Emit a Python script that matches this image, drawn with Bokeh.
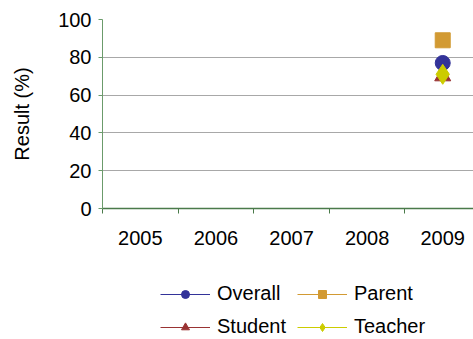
import math
from bokeh.plotting import figure
from bokeh.layouts import column
from bokeh.models import FixedTicker, Range1d, Legend, LegendItem, ColumnDataSource
from bokeh.embed import file_html
from bokeh.resources import INLINE

# Survey results by year (only 2009 has data)
years = ["2005", "2006", "2007", "2008", "2009"]
overall = [math.nan, math.nan, math.nan, math.nan, 77]
parent = [math.nan, math.nan, math.nan, math.nan, 89]
student = [math.nan, math.nan, math.nan, math.nan, 70]
teacher = [math.nan, math.nan, math.nan, math.nan, 71]
y_ticks = [0, 20, 40, 60, 80, 100]

FONT = "Liberation Sans"

# category centres on a numeric axis so boundary ticks can sit between labels
xs = [i + 0.5 for i in range(len(years))]

p = figure(
    width=473, height=255,
    output_backend="svg", toolbar_location=None,
    x_range=Range1d(0, 4.907), y_range=Range1d(0, 100),
    min_border_left=102, min_border_top=19, min_border_bottom=47, min_border_right=0,
)
p.outline_line_color = None
p.background_fill_color = "white"
p.border_fill_color = "white"

# x axis: labels at centres, tick marks at category boundaries
p.xaxis.ticker = FixedTicker(ticks=xs, minor_ticks=list(range(len(years))))
p.xaxis.major_label_overrides = {x: y for x, y in zip(xs, years)}
p.xaxis.major_tick_line_color = None
p.xaxis.major_tick_out = 0
p.xaxis.major_tick_in = 0
p.xaxis.minor_tick_line_color = "#4a7a4a"
p.xaxis.minor_tick_out = 5
p.xaxis.minor_tick_in = 0
p.xaxis.axis_line_color = "#4a7a4a"
p.xaxis.axis_line_width = 1.5
p.xaxis.major_label_text_font = FONT
p.xaxis.major_label_text_font_size = "20px"
p.xaxis.major_label_text_color = "black"
p.xaxis.major_label_standoff = 17
p.xgrid.grid_line_color = None

# y axis
p.yaxis.ticker = FixedTicker(ticks=y_ticks)
p.yaxis.axis_line_color = "#6b9b6b"
p.yaxis.major_tick_line_color = "#6b9b6b"
p.yaxis.major_tick_out = 4
p.yaxis.major_tick_in = 0
p.yaxis.minor_tick_line_color = None
p.yaxis.major_label_text_font = FONT
p.yaxis.major_label_text_font_size = "20px"
p.yaxis.major_label_text_color = "black"
p.yaxis.major_label_standoff = 7
p.yaxis.axis_label = "Result (%)"
p.yaxis.axis_label_text_font = FONT
p.yaxis.axis_label_text_font_size = "20px"
p.yaxis.axis_label_text_font_style = "normal"
p.yaxis.axis_label_text_color = "black"
p.yaxis.axis_label_standoff = 22
p.ygrid.grid_line_color = "#a8a8a8"
p.ygrid.grid_line_width = 1

series = [
    ("Overall", overall, "#333399", "circle", 15),
    ("Parent", parent, "#D29A33", "square", 15),
    ("Student", student, "#993333", "triangle", 16),
    ("Teacher", teacher, "#CCCC00", "diamond", 20),
]

# legend strip underneath the chart
lg = figure(
    width=473, height=84,
    output_backend="svg", toolbar_location=None,
    x_range=Range1d(0, 1), y_range=Range1d(0, 1),
    x_axis_location=None, y_axis_location=None,
    min_border=0,
)
lg.outline_line_color = None
lg.xgrid.grid_line_color = None
lg.ygrid.grid_line_color = None

items = []
for name, vals, color, marker, size in series:
    src = ColumnDataSource(dict(x=xs, y=vals))
    p.line("x", "y", source=src, line_color=color, line_width=1)
    p.scatter("x", "y", source=src, marker=marker, size=size,
              fill_color=color, line_color=color)
    # legend swatches: same styling, marker slightly smaller
    ln = lg.line("x", "y", source=src, line_color=color, line_width=1)
    sc = lg.scatter("x", "y", source=src, marker=marker, size=size - 3,
                    fill_color=color, line_color=color)
    items.append(LegendItem(label=name, renderers=[ln, sc]))

legend = Legend(
    items=items, ncols=2, orientation="horizontal",
    location=(58, 1),
    label_text_font=FONT, label_text_font_size="20px", label_text_color="black",
    glyph_width=50, glyph_height=20, label_height=20,
    label_standoff=7, label_width=70,
    spacing=10, padding=0, margin=0,
    border_line_color=None, background_fill_alpha=0,
)
lg.add_layout(legend, "center")

open("out.html", "w").write(file_html(column(p, lg, spacing=0), INLINE))
